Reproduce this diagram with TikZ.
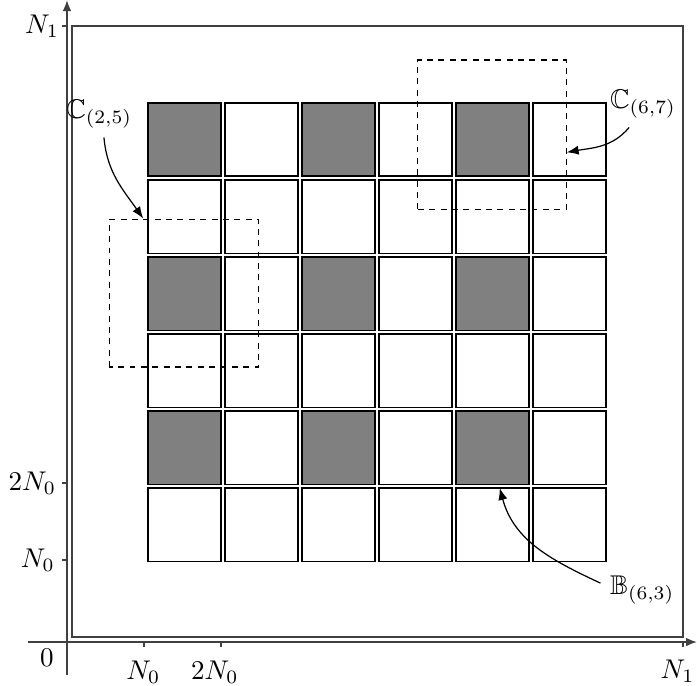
\documentclass[tikz,border=0pt]{standalone}
\usepackage{amsmath,amssymb}
\usetikzlibrary{arrows.meta,positioning}

\begin{document}
\begin{tikzpicture}[
    cell/.style={draw=black, line width=0.5pt, fill=white},
    darkcell/.style={cell, fill=black!50},
    window/.style={draw=black, line width=0.5pt, dash pattern=on 2.2pt off 2pt},
    axis/.style={-{Latex[length=4pt, width=3.2pt]}, line width=0.5pt, black!75},
    tick/.style={line width=0.5pt, black!75},
    frame/.style={draw=black!75, line width=0.55pt},
    lbl/.style={inner sep=0pt},
    arr/.style={-{Latex[length=4.4pt, width=3.4pt]}, line width=0.45pt},
  ]
  \useasboundingbox (-0.870,-0.571) rectangle (8.182,8.338);

  % Axes and frame
  \draw[axis] (-0.5,0) -- (8.18,0);
  \draw[axis] (0,-0.43) -- (0,8.335);
  \draw[frame] (0.065,0.065) rectangle (8,8);

  % Ticks
  \foreach \x in {1,2,8} \draw[tick] (\x,0) -- (\x,-0.065);
  \foreach \y in {1.065,2.065,8} \draw[tick] (0,\y) -- (-0.065,\y);

  % Tick labels
  \node[lbl] (orig) at (-0.26,-0.20) {$0$};
  \node[lbl] (xa) at (0.99,-0.39) {$N_0$};
  \node[lbl] (xb) at (1.92,-0.39) {$2N_0$};
  \node[lbl] (xc) at (7.93,-0.38) {$N_1$};
  \node[lbl] (ya) at (-0.38,1.065) {$N_0$};
  \node[lbl] (yb) at (-0.45,2.065) {$2N_0$};
  \node[lbl] (yc) at (-0.325,8.0) {$N_1$};

  % Blocks
  \foreach \i in {1,...,6}
    \foreach \j in {1,...,6} {
      \pgfmathparse{int(mod(\i,2)==1 && mod(\j,2)==0)}
      \ifnum\pgfmathresult=1
        \draw[darkcell] (\i+0.05,\j+0.05) rectangle (\i+1,\j+1);
      \else
        \draw[cell] (\i+0.05,\j+0.05) rectangle (\i+1,\j+1);
      \fi
    }

  % Windows
  \draw[window] (0.55,3.57) rectangle (2.49,5.49);
  \draw[window] (4.55,5.62) rectangle (6.49,7.56);

  % Annotations
  \node (c25) at (0.42,6.86) {$\mathbb{C}_{(2,5)}$};
  \node (c67) at (7.48,6.99) {$\mathbb{C}_{(6,7)}$};
  \node (b63) at (7.47,0.675) {$\mathbb{B}_{(6,3)}$};

  \coordinate (t25) at (0.99,5.50);
  \coordinate (t67) at (6.49,6.36);
  \coordinate (t63) at (5.62,2.00);

  \draw[arr] ([xshift=0.06cm]c25.south) to[out=-85, in=125] (t25);
  \draw[arr] ([xshift=-0.18cm]c67.south) to[out=-130, in=10] (t67);
  \draw[arr] ([yshift=0.09cm]b63.west) to[out=155, in=-75] (t63);
\end{tikzpicture}
\end{document}
